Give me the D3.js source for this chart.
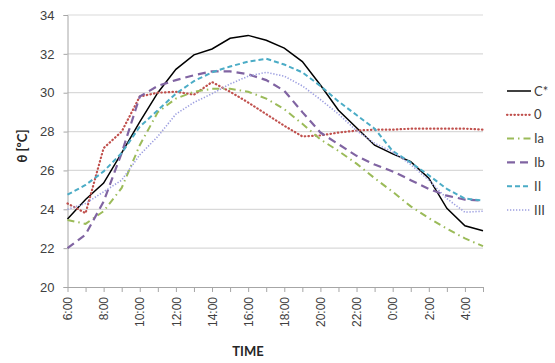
<!DOCTYPE html>
<html>
<head>
<meta charset="utf-8">
<script src="https://cdn.jsdelivr.net/npm/d3@7"></script>
<style>
  body { margin: 0; background: #fff; }
  svg { display: block; font-family: Lato, "Open Sans", sans-serif; }
</style>
</head>
<body>
<div id="chart"></div>
<script>
// hourly readings, 6:00 through 5:00 the next morning
const hours = ['6:00','7:00','8:00','9:00','10:00','11:00','12:00','13:00','14:00','15:00','16:00','17:00',
               '18:00','19:00','20:00','21:00','22:00','23:00','0:00','1:00','2:00','3:00','4:00','5:00']
const hourLabels = ['6:00','8:00','10:00','12:00','14:00','16:00','18:00','20:00','22:00','0:00','2:00','4:00']
const yTicks = [20, 22, 24, 26, 28, 30, 32, 34]

const seriesNames = ['C*', '0', 'Ia', 'Ib', 'II', 'III']
const valsC = [23.5, 24.5, 25.35, 26.9, 28.5, 30.0, 31.2, 31.95, 32.25, 32.8, 32.95, 32.7,
               32.3, 31.6, 30.4, 29.1, 28.2, 27.3, 26.85, 26.45, 25.6, 24.05, 23.15, 22.9]
const vals0 = [24.3, 23.8, 27.15, 28.0, 29.8, 30.0, 30.05, 29.9, 30.55, 30.05, 29.5, 28.9,
               28.3, 27.75, 27.8, 27.95, 28.05, 28.1, 28.1, 28.15, 28.15, 28.15, 28.15, 28.1]
const valsIa = [23.45, 23.25, 23.9, 25.1, 27.3, 29.0, 29.7, 30.05, 30.2, 30.2, 30.05, 29.7,
                29.15, 28.4, 27.6, 27.0, 26.35, 25.6, 24.9, 24.15, 23.55, 23.0, 22.5, 22.1]
const valsIb = [22.0, 22.7, 24.4, 26.9, 29.8, 30.35, 30.65, 30.9, 31.1, 31.1, 30.95, 30.65,
                30.1, 29.0, 27.95, 27.35, 26.75, 26.3, 25.95, 25.5, 25.05, 24.7, 24.5, 24.45]
const valsII = [24.75, 25.25, 25.95, 26.9, 28.25, 29.1, 29.95, 30.6, 31.05, 31.35, 31.6, 31.75,
                31.45, 31.05, 30.35, 29.55, 28.85, 28.15, 27.0, 26.4, 25.75, 25.05, 24.55, 24.45]
const valsIII = [24.0, 24.3, 24.9, 25.5, 26.8, 27.75, 28.9, 29.5, 29.95, 30.45, 30.85, 31.05,
                 30.85, 30.35, 29.65, 28.9, 28.05, 27.4, 26.95, 26.3, 25.5, 24.55, 23.85, 23.9]
const allVals = [valsC, vals0, valsIa, valsIb, valsII, valsIII]

// line styles per series
const styles = [
    {color: '#000000', width: 1.5, dash: null, cap: 'butt'},
    {color: '#c0504d', width: 2.2, dash: '0.5 3.2', cap: 'round'},
    {color: '#9bbb59', width: 2, dash: '7 4 1.5 4', cap: 'butt'},
    {color: '#8064a2', width: 2.2, dash: '8 5', cap: 'butt'},
    {color: '#4bacc6', width: 2, dash: '5 3', cap: 'butt'},
    {color: '#9d9fe0', width: 1.6, dash: '1.3 1.7', cap: 'butt'}
]

const width = 555, height = 363
const plot = {left: 67.5, right: 483, top: 15, bottom: 287}

const svg = d3.select('#chart').append('svg')
    .attr('width', width)
    .attr('height', height)

const x = d3.scalePoint().domain(hours).range([plot.left, plot.right])
const y = d3.scaleLinear().domain([20, 34]).range([plot.bottom, plot.top])

// gridlines
svg.append('g')
    .selectAll('line')
    .data(yTicks.slice(1))
    .enter().append('line')
    .attr('x1', plot.left).attr('x2', plot.right)
    .attr('y1', d => y(d)).attr('y2', d => y(d))
    .style('stroke', '#d9d9d9')
    .style('stroke-width', 1.2)

// y axis
const yAxis = svg.append('g')
    .attr('transform', `translate(${plot.left},0)`)
    .call(d3.axisLeft(y).tickValues(yTicks).tickSize(4).tickPadding(9).tickFormat(d3.format('d')))
yAxis.select('.domain').style('stroke', '#a6a6a6')
yAxis.selectAll('.tick line').style('stroke', '#a6a6a6')
yAxis.selectAll('text').style('font-size', '13px').style('fill', '#404040')

// x axis, tick every hour, label every two hours
const xAxis = svg.append('g')
    .attr('transform', `translate(0,${plot.bottom})`)
    .call(d3.axisBottom(x).tickSize(5).tickSizeOuter(0)
        .tickFormat(d => hourLabels.includes(d) ? d : ''))
xAxis.select('.domain').style('stroke', '#a6a6a6')
xAxis.selectAll('.tick line').style('stroke', '#a6a6a6')
xAxis.selectAll('text')
    .style('font-size', '12px')
    .style('fill', '#404040')
    .attr('text-anchor', 'end')
    .attr('transform', 'rotate(-90)')
    .attr('x', -10)
    .attr('y', 0)
    .attr('dy', '0.35em')

// series lines
const line = d3.line()
    .x((d, i) => x(hours[i]))
    .y(d => y(d))

svg.append('g')
    .selectAll('path')
    .data(allVals)
    .enter().append('path')
    .attr('d', line)
    .style('fill', 'none')
    .style('stroke', (d, i) => styles[i].color)
    .style('stroke-width', (d, i) => styles[i].width)
    .style('stroke-dasharray', (d, i) => styles[i].dash)
    .style('stroke-linecap', (d, i) => styles[i].cap)

// legend
const legend = svg.append('g')
    .selectAll('g')
    .data(seriesNames)
    .enter().append('g')
    .attr('transform', (d, i) => `translate(507,${91 + i * 23.8})`)

legend.append('line')
    .attr('x1', 0).attr('x2', 24)
    .style('stroke', (d, i) => styles[i].color)
    .style('stroke-width', (d, i) => styles[i].width)
    .style('stroke-dasharray', (d, i) => styles[i].dash)
    .style('stroke-linecap', (d, i) => styles[i].cap)

legend.append('text')
    .attr('x', 27)
    .attr('dy', '0.35em')
    .style('font-size', '13px')
    .style('fill', '#404040')
    .text(d => d)

// axis titles
svg.append('text')
    .attr('transform', 'translate(27,146) rotate(-90)')
    .attr('text-anchor', 'middle')
    .style('font-size', '13px')
    .style('font-weight', 'bold')
    .style('fill', '#262626')
    .text('θ [ºC]')

svg.append('text')
    .attr('x', 248)
    .attr('y', 356)
    .attr('text-anchor', 'middle')
    .style('font-size', '13px')
    .style('font-weight', 'bold')
    .style('fill', '#262626')
    .text('TIME')
</script>
</body>
</html>
